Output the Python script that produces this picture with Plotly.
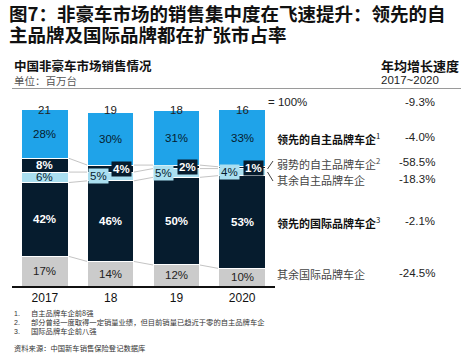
import plotly.graph_objects as go

years = ["2017", "18", "19", "2020"]
totals = ["21", "19", "18", "16"]
other_intl = [17, 14, 12, 10]
lead_intl = [42, 46, 50, 53]
other_dom = [6, 5, 5, 4]
weak_dom = [8, 4, 2, 1]
lead_dom = [28, 30, 31, 33]
seg_names = ["其余国际品牌车企", "领先的国际品牌车企", "其余自主品牌车企", "弱势的自主品牌车企", "领先的自主品牌车企"]
seg_notes = ["", "3", "", "2", "1"]
growth = ["-24.5%", "-2.1%", "-18.3%", "-58.5%", "-4.0%"]
total_growth = "-9.3%"
notes = ["自主品牌车企前8强", "部分曾经一度取得一定销量业绩，但目前销量已趋近于零的自主品牌车企", "国际品牌车企前八强"]
source = "资料来源：中国新车销售保险登记数据库"

NAVY = "#061c2e"
BLUE = "#1fa3e9"
LIGHT = "#aadff0"
GRAY = "#cbcbcb"
NUM = "Liberation Sans, Arial, Noto Sans CJK SC"
CJK = "Noto Sans CJK SC, Liberation Sans"

series = [other_intl, lead_intl, other_dom, weak_dom, lead_dom]
colors = [GRAY, NAVY, LIGHT, NAVY, BLUE]
xs = list(range(len(years)))
W = 0.71

# plot area in pixels
L, R, T, B = 12, 275, 109, 286
def px(x):
    return (x - L) / (R - L)
def py(y):
    return (B - y) / (B - T)

fig = go.Figure()
for vals, col, name in zip(series, colors, seg_names):
    fig.add_trace(go.Bar(x=xs, y=vals, marker=dict(color=col, line=dict(color="white", width=1)),
                         width=W, name=name, showlegend=False, hoverinfo="skip"))

ann = []
shapes = []
cum = []
run = [0] * len(xs)
for vals in series:
    lo = run[:]
    run = [a + b for a, b in zip(run, vals)]
    cum.append((lo, run[:]))

# connectors between bars
for k in range(len(series) - 1):
    for i in range(len(xs) - 1):
        shapes.append(dict(type="line", xref="x", yref="y", x0=i + W / 2, x1=i + 1 - W / 2,
                           y0=cum[k][1][i], y1=cum[k][1][i + 1], line=dict(color="#c4c4c4", width=1), layer="below"))

txtcol = ["#222222", "white", NAVY, "white", NAVY]
pct_bold = [False, True, False, True, False]
for k, vals in enumerate(series):
    for i, v in enumerate(vals):
        lo, hi = cum[k][0][i], cum[k][1][i]
        mid = (lo + hi) / 2
        t = f"{v}%"
        if pct_bold[k]:
            t = f"<b>{t}</b>"
        x = i
        extra = {}
        if i > 0 and k == 3:
            x = i + 0.17
            extra = dict(bgcolor=NAVY, borderpad=1)
            mid = mid - 0.3
        elif i > 0 and k == 2:
            x = i - 0.19
            extra = dict(bgcolor=LIGHT, borderpad=1)
        ann.append(dict(x=x, y=mid, xref="x", yref="y", text=t, showarrow=False,
                        font=dict(family=NUM, size=11.5, color=txtcol[k]), **extra))

for i, t in enumerate(totals):
    ann.append(dict(x=i, y=py(102), xref="x", yref="paper", text=t, showarrow=False,
                    font=dict(family=NUM, size=11.5, color="#222")))

def text_at(x, y, text, size, color="#222", family=CJK, anchor="left"):
    ann.append(dict(x=px(x), y=py(y), xref="paper", yref="paper", text=text, showarrow=False,
                    xanchor=anchor, yanchor="middle", font=dict(family=family, size=size, color=color)))

text_at(7, 13, "<b>图7：非豪车市场的销售集中度在飞速提升：领先的自</b>", 18.5, "#111")
text_at(7, 34, "<b>主品牌及国际品牌都在扩张市占率</b>", 18.5, "#111")
text_at(12, 66, "<b>中国非豪车市场销售情况</b>", 12.5, "#111")
text_at(12, 80, "单位：百万台", 10.5, "#555")
text_at(379, 66, "<b>年均增长速度</b>", 13, "#111")
text_at(379, 80, "2017~2020", 11.5, "#222", NUM)
text_at(266, 102, "= 100%", 11.5, "#222", NUM)
text_at(437, 102, total_growth, 11.5, "#222", NUM, "right")

label_y = [274, 222, 180, 163, 138]
label_bold = [False, True, False, False, True]
for k in range(len(series)):
    nm = seg_names[k]
    sup = f"<sup>{seg_notes[k]}</sup>" if seg_notes[k] else ""
    if label_bold[k]:
        txt = f"<b>{nm}</b>{sup}"
        col = "#111"
    else:
        txt = f"{nm}{sup}"
        col = "#444"
    text_at(275, label_y[k], txt, 11, col)
    text_at(437, label_y[k] - 1, growth[k], 11.5, "#222", NUM, "right")

for j, n in enumerate(notes):
    text_at(12, 313 + 9 * j, f"{j + 1}.", 7, "#333", NUM)
    text_at(29, 313 + 9 * j, n, 7.3, "#333")
text_at(12, 348, source, 7.3, "#333")

shapes.append(dict(type="line", xref="paper", yref="paper", x0=px(12), x1=px(461), y0=py(88.5), y1=py(88.5),
                   line=dict(color="#9a9a9a", width=1)))
shapes.append(dict(type="line", xref="paper", yref="paper", x0=px(273), x1=px(267.5), y0=py(161), y1=py(169),
                   line=dict(color="#444", width=1)))
shapes.append(dict(type="line", xref="paper", yref="paper", x0=px(267.5), x1=px(273), y0=py(172), y1=py(181),
                   line=dict(color="#444", width=1)))

fig.update_layout(
    barmode="stack",
    width=467, height=361,
    margin=dict(l=L, r=467 - R, t=T, b=361 - B, pad=0),
    paper_bgcolor="white", plot_bgcolor="white",
    annotations=ann, shapes=shapes,
    xaxis=dict(range=[-0.5, 3.5], tickvals=xs, ticktext=years, showline=True, linecolor="#111", linewidth=1.5,
               ticks="", showgrid=False, zeroline=False, tickfont=dict(family=NUM, size=12, color="#111"), fixedrange=True),
    yaxis=dict(range=[0, 101], visible=False, showgrid=False, zeroline=False, fixedrange=True),
)
fig.write_html("out.html", config={"displayModeBar": False},
               post_script="document.body.style.margin='0';")
